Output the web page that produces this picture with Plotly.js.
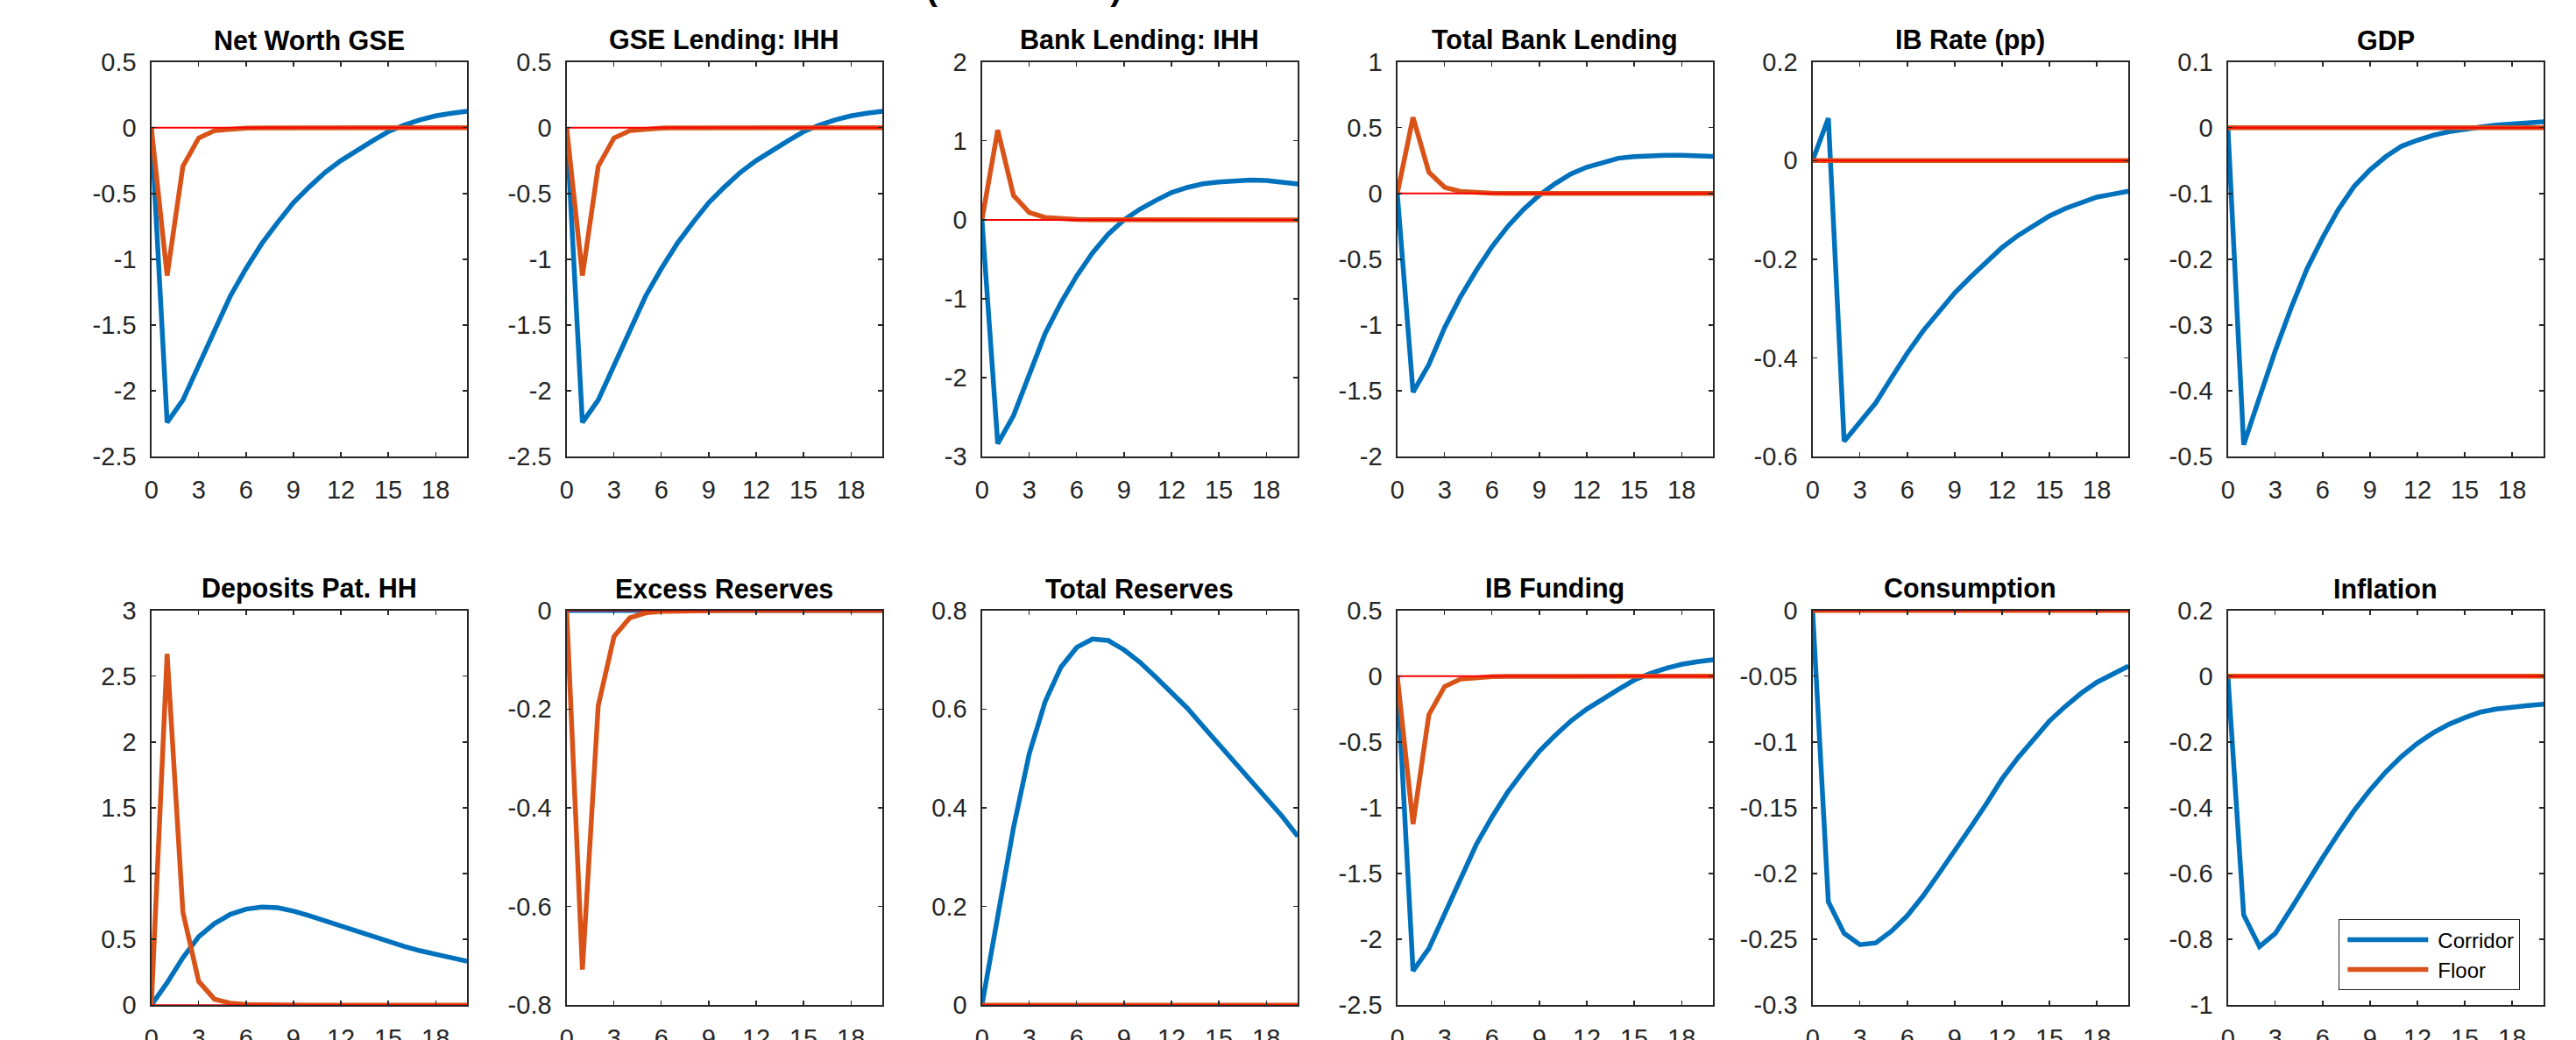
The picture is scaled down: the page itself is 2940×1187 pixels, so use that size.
<!DOCTYPE html>
<html>
<head>
<meta charset="utf-8">
<script src="https://cdn.plot.ly/plotly-3.0.1.min.js"></script>
<style>
  html, body { margin: 0; padding: 0; background: #ffffff; }
  #chart { width: 2940px; height: 1187px; }
</style>
</head>
<body>
<div id="chart"></div>
<script>
// ---------------- DATA ----------------
const periods = [0,1,2,3,4,5,6,7,8,9,10,11,12,13,14,15,16,17,18,19,20];
const xTickVals = [0,3,6,9,12,15,18];

const panelTitles = ["Net Worth GSE","GSE Lending: IHH","Bank Lending: IHH","Total Bank Lending","IB Rate (pp)","GDP",
                     "Deposits Pat. HH","Excess Reserves","Total Reserves","IB Funding","Consumption","Inflation"];
const seriesNames = ["Corridor","Floor"];
const supTitle = "(Deviations)";

const netWorthCorridor   = [0,-2.24,-2.07,-1.80,-1.53,-1.28,-1.07,-0.88,-0.72,-0.57,-0.45,-0.34,-0.25,-0.17,-0.10,-0.03,0.02,0.06,0.09,0.11,0.125];
const netWorthFloor      = [0,-1.124,-0.293,-0.078,-0.022,-0.008,-0.003,-0.001,0,0,0,0,0,0,0,0,0,0,0,0,0];
const gseLendCorridor    = [0,-2.24,-2.07,-1.80,-1.53,-1.28,-1.07,-0.88,-0.72,-0.57,-0.45,-0.34,-0.25,-0.17,-0.10,-0.03,0.02,0.06,0.09,0.11,0.125];
const gseLendFloor       = [0,-1.124,-0.293,-0.078,-0.022,-0.008,-0.003,-0.001,0,0,0,0,0,0,0,0,0,0,0,0,0];
const bankLendCorridor   = [0,-2.835,-2.48,-1.98,-1.44,-1.05,-0.71,-0.42,-0.18,0.0,0.135,0.245,0.345,0.41,0.457,0.48,0.498,0.503,0.499,0.48,0.455];
const bankLendFloor      = [0,1.138,0.307,0.092,0.03,0.011,0.004,0.001,0,0,0,0,0,0,0,0,0,0,0,0,0];
const totalBankCorridor  = [0,-1.51,-1.30,-1.02,-0.785,-0.585,-0.404,-0.25,-0.12,-0.012,0.075,0.149,0.2,0.238,0.268,0.28,0.288,0.291,0.29,0.287,0.282];
const totalBankFloor     = [0,0.579,0.162,0.047,0.016,0.006,0.002,0.001,0,0,0,0,0,0,0,0,0,0,0,0,0];
const ibRateCorridor     = [0,0.086,-0.569,-0.531,-0.491,-0.44,-0.39,-0.345,-0.305,-0.268,-0.236,-0.205,-0.176,-0.152,-0.131,-0.112,-0.097,-0.086,-0.074,-0.068,-0.062];
const ibRateFloor        = [0,0,0,0,0,0,0,0,0,0,0,0,0,0,0,0,0,0,0,0,0];
const gdpCorridor        = [0,-0.482,-0.41,-0.339,-0.274,-0.215,-0.167,-0.124,-0.089,-0.064,-0.044,-0.028,-0.019,-0.0115,-0.006,-0.002,0.001,0.004,0.006,0.008,0.009];
const gdpFloor           = [0,0,0,0,0,0,0,0,0,0,0,0,0,0,0,0,0,0,0,0,0];
const depositsCorridor   = [0,0.17,0.36,0.52,0.62,0.69,0.73,0.745,0.74,0.715,0.68,0.64,0.60,0.56,0.52,0.48,0.447,0.414,0.385,0.357,0.333];
const depositsFloor      = [0,2.67,0.707,0.18,0.045,0.015,0.005,0.002,0,0,0,0,0,0,0,0,0,0,0,0,0];
const excessResCorridor  = [0,0,0,0,0,0,0,0,0,0,0,0,0,0,0,0,0,0,0,0,0];
const excessResFloor     = [0,-0.728,-0.193,-0.053,-0.015,-0.005,-0.002,-0.001,0,0,0,0,0,0,0,0,0,0,0,0,0];
const totalResCorridor   = [0,0.185,0.36,0.51,0.615,0.685,0.725,0.742,0.739,0.72,0.695,0.665,0.634,0.602,0.565,0.529,0.493,0.457,0.422,0.383,0.342];
const totalResFloor      = [0,0,0,0,0,0,0,0,0,0,0,0,0,0,0,0,0,0,0,0,0];
const ibFundingCorridor  = [0,-2.24,-2.07,-1.80,-1.53,-1.28,-1.07,-0.88,-0.72,-0.57,-0.45,-0.34,-0.25,-0.17,-0.10,-0.03,0.02,0.06,0.09,0.11,0.125];
const ibFundingFloor     = [0,-1.124,-0.293,-0.078,-0.022,-0.008,-0.003,-0.001,0,0,0,0,0,0,0,0,0,0,0,0,0];
const consumptionCorridor= [0,-0.2215,-0.2455,-0.254,-0.2527,-0.2437,-0.232,-0.217,-0.2,-0.183,-0.165,-0.147,-0.128,-0.112,-0.098,-0.084,-0.073,-0.063,-0.0546,-0.0485,-0.0423];
const consumptionFloor   = [0,0,0,0,0,0,0,0,0,0,0,0,0,0,0,0,0,0,0,0,0];
const inflationCorridor  = [0,-0.726,-0.822,-0.782,-0.707,-0.628,-0.552,-0.478,-0.408,-0.346,-0.291,-0.244,-0.204,-0.172,-0.146,-0.126,-0.109,-0.0997,-0.093,-0.089,-0.085];
const inflationFloor     = [0,0,0,0,0,0,0,0,0,0,0,0,0,0,0,0,0,0,0,0,0];
const zeroLine           = [0,0,0,0,0,0,0,0,0,0,0,0,0,0,0,0,0,0,0,0,0];

const yTicks = [
  [-2.5,-2,-1.5,-1,-0.5,0,0.5],
  [-2.5,-2,-1.5,-1,-0.5,0,0.5],
  [-3,-2,-1,0,1,2],
  [-2,-1.5,-1,-0.5,0,0.5,1],
  [-0.6,-0.4,-0.2,0,0.2],
  [-0.5,-0.4,-0.3,-0.2,-0.1,0,0.1],
  [0,0.5,1,1.5,2,2.5,3],
  [-0.8,-0.6,-0.4,-0.2,0],
  [0,0.2,0.4,0.6,0.8],
  [-2.5,-2,-1.5,-1,-0.5,0,0.5],
  [-0.3,-0.25,-0.2,-0.15,-0.1,-0.05,0],
  [-1,-0.8,-0.6,-0.4,-0.2,0,0.2]
];

const corridorSeries = [netWorthCorridor,gseLendCorridor,bankLendCorridor,totalBankCorridor,ibRateCorridor,gdpCorridor,
                        depositsCorridor,excessResCorridor,totalResCorridor,ibFundingCorridor,consumptionCorridor,inflationCorridor];
const floorSeries    = [netWorthFloor,gseLendFloor,bankLendFloor,totalBankFloor,ibRateFloor,gdpFloor,
                        depositsFloor,excessResFloor,totalResFloor,ibFundingFloor,consumptionFloor,inflationFloor];

// ---------------- LAYOUT ----------------
const W = 2940, H = 1187;
const colLeft = [172.7, 646.7, 1120.7, 1594.7, 2068.7, 2542.7];
const colWidth = 360.5;
const rowTop = [70.7, 696.7];
const rowHeight = 450.5;

const FONT = "Liberation Sans, Arial, Helvetica, sans-serif";
const AXC = "#262626";
const BLUE = "#0072BD", ORANGE = "#D95319", RED = "#FF0000";

const data = [];
const layout = {
  width: W, height: H,
  margin: {l:0, r:0, t:0, b:0, pad:0},
  paper_bgcolor: "#ffffff",
  plot_bgcolor: "#ffffff",
  font: {family: FONT, size: 29, color: AXC},
  showlegend: true,
  legend: {
    x: 2669/W, y: 1 - 1049/H, xanchor: "left", yanchor: "top",
    bgcolor: "#ffffff", bordercolor: AXC, borderwidth: 1.3,
    font: {family: FONT, size: 24, color: "#000000"},
    itemwidth: 102, tracegroupgap: 0
  },
  annotations: [],
  hovermode: false
};

for (let i = 0; i < 12; i++) {
  const r = Math.floor(i / 6), c = i % 6;
  const n = i + 1;
  const xa = "x" + (n === 1 ? "" : n), ya = "y" + (n === 1 ? "" : n);
  const x0 = colLeft[c] / W, x1 = (colLeft[c] + colWidth) / W;
  const yTopPx = rowTop[r], yBotPx = rowTop[r] + rowHeight;
  const y0 = 1 - yBotPx / H, y1 = 1 - yTopPx / H;
  const yt = yTicks[i];

  layout["xaxis" + (n === 1 ? "" : n)] = {
    domain: [x0, x1], anchor: ya, range: [0, 20],
    tickmode: "array", tickvals: xTickVals, ticktext: xTickVals.map(String),
    ticks: "inside", ticklen: 5, tickwidth: 1.3, tickcolor: AXC,
    showline: true, linecolor: AXC, linewidth: 1.3, mirror: "ticks",
    showgrid: false, zeroline: false, ticklabelstandoff: 12,
    tickfont: {family: FONT, size: 29, color: AXC}, fixedrange: true
  };
  layout["yaxis" + (n === 1 ? "" : n)] = {
    domain: [y0, y1], anchor: xa, range: [yt[0], yt[yt.length - 1]],
    tickmode: "array", tickvals: yt, ticktext: yt.map(String),
    ticks: "inside", ticklen: 5, tickwidth: 1.3, tickcolor: AXC,
    showline: true, linecolor: AXC, linewidth: 1.3, mirror: "ticks",
    showgrid: false, zeroline: false, ticklabelstandoff: 10,
    tickfont: {family: FONT, size: 29, color: AXC}, fixedrange: true
  };

  data.push({
    type: "scatter", mode: "lines", x: periods, y: corridorSeries[i],
    xaxis: xa, yaxis: ya, name: seriesNames[0], showlegend: i === 11, legendrank: 1,
    line: {color: BLUE, width: 5.5}, hoverinfo: "skip"
  });
  data.push({
    type: "scatter", mode: "lines", x: periods, y: floorSeries[i],
    xaxis: xa, yaxis: ya, name: seriesNames[1], showlegend: i === 11, legendrank: 2,
    line: {color: ORANGE, width: 5.5}, hoverinfo: "skip"
  });
  data.push({
    type: "scatter", mode: "lines", x: periods, y: zeroLine,
    xaxis: xa, yaxis: ya, showlegend: false,
    line: {color: RED, width: 2}, hoverinfo: "skip"
  });

  layout.annotations.push({
    text: panelTitles[i], xref: "paper", yref: "paper",
    x: (x0 + x1) / 2, y: y1, xanchor: "center", yanchor: "bottom", yshift: 6,
    showarrow: false, font: {family: FONT, size: 30.5, color: "#000000", weight: 700}
  });
}

layout.annotations.push({
  text: supTitle, xref: "paper", yref: "paper",
  x: 1168 / W, y: 1 - 10 / H, xanchor: "center", yanchor: "bottom",
  showarrow: false, font: {family: FONT, size: 39, color: "#000000", weight: 700}
});

Plotly.newPlot("chart", data, layout, {staticPlot: true, displayModeBar: false}).then(function () {
  document.querySelectorAll(".legend .traces path.js-line").forEach(function (p) {
    p.setAttribute("d", "M9,0h92");
  });
});
</script>
</body>
</html>
